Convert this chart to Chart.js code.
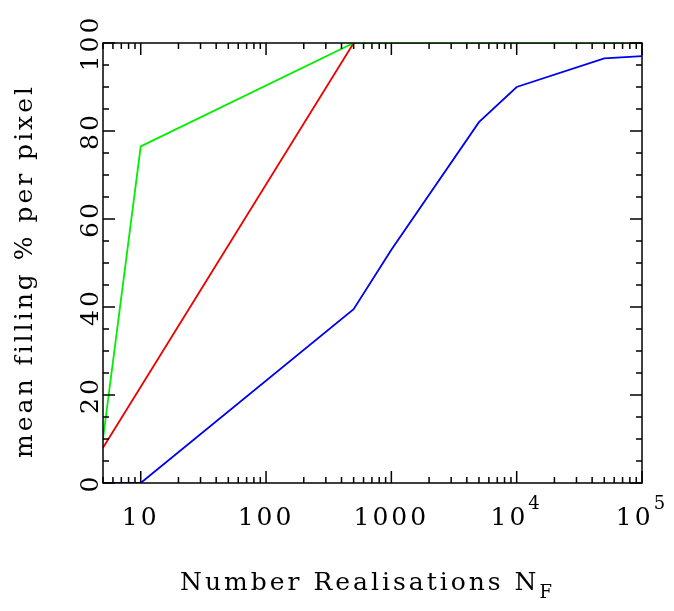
<!DOCTYPE html>
<html><head><meta charset="utf-8">
<script src="https://cdn.jsdelivr.net/npm/chart.js@4"></script>
<style>body{margin:0;background:#fff}#c{display:block}</style>
</head><body>
<canvas id="c" width="674" height="611"></canvas>
<script>
const greenX = [5, 10, 500, 100000];
const greenY = [10, 76.5, 100, 100];
const redX = [5, 500, 100000];
const redY = [8, 100, 100];
const blueX = [5, 10, 500, 1000, 5000, 10000, 50000, 100000];
const blueY = [0, 0, 39.5, 53, 82, 90, 96.5, 97];
const xTickVals = [10, 100, 1000, 10000, 100000];
const xTickLabels = ['10', '100', '1000', ['10', '4'], ['10', '5']];
const yTickVals = [0, 20, 40, 60, 80, 100];

const pts = (xs, ys) => xs.map((x, i) => ({x: x, y: ys[i]}));
const FONT = '25px "DejaVu Serif", serif';
const SMALL = '18px "DejaVu Serif", serif';

const axesPlugin = {
  id: 'axesPlugin',
  afterDraw(chart) {
    const {ctx, chartArea: a, scales: {x, y}} = chart;
    ctx.save();
    ctx.strokeStyle = '#000';
    ctx.lineWidth = 1.5;
    ctx.strokeRect(a.left, a.top, a.right - a.left, a.bottom - a.top);
    for (let d = 1; d <= 100000; d *= 10) {
      for (let m = 1; m < 10; m++) {
        const v = d * m;
        if (v < 5 || v > 100000) continue;
        const px = x.getPixelForValue(v);
        const len = m === 1 ? 12 : 6;
        ctx.beginPath();
        ctx.moveTo(px, a.bottom); ctx.lineTo(px, a.bottom - len);
        ctx.moveTo(px, a.top); ctx.lineTo(px, a.top + len);
        ctx.stroke();
      }
    }
    for (let v = 0; v <= 100; v += 5) {
      const py = y.getPixelForValue(v);
      const len = v % 20 === 0 ? 12 : 6;
      ctx.beginPath();
      ctx.moveTo(a.left, py); ctx.lineTo(a.left + len, py);
      ctx.moveTo(a.right, py); ctx.lineTo(a.right - len, py);
      ctx.stroke();
    }
    ctx.fillStyle = '#000';
    ctx.letterSpacing = '3px';
    xTickVals.forEach((v, i) => {
      const px = x.getPixelForValue(v);
      const lab = xTickLabels[i];
      if (Array.isArray(lab)) {
        ctx.font = FONT;
        const w1 = ctx.measureText(lab[0]).width;
        ctx.font = SMALL;
        const w2 = ctx.measureText(lab[1]).width;
        const x0 = px - (w1 + w2) / 2;
        ctx.font = FONT;
        ctx.textAlign = 'left';
        ctx.fillText(lab[0], x0, a.bottom + 42);
        ctx.font = SMALL;
        ctx.fillText(lab[1], x0 + w1, a.bottom + 26);
      } else {
        ctx.font = FONT;
        ctx.textAlign = 'center';
        ctx.fillText(lab, px, a.bottom + 42);
      }
    });
    ctx.font = FONT;
    yTickVals.forEach(v => {
      const py = y.getPixelForValue(v);
      ctx.save();
      ctx.translate(a.left - 5, py);
      ctx.rotate(-Math.PI / 2);
      ctx.textAlign = 'center';
      ctx.fillText(String(v), 0, 0);
      ctx.restore();
    });
    ctx.save();
    ctx.translate(32, (a.top + a.bottom) / 2 + 8);
    ctx.rotate(-Math.PI / 2);
    ctx.textAlign = 'center';
    ctx.fillText('mean filling % per pixel', 0, 0);
    ctx.restore();
    const t = 'Number Realisations N';
    ctx.font = FONT;
    const wt = ctx.measureText(t).width;
    ctx.font = SMALL;
    const ws = ctx.measureText('F').width;
    const cx = (a.left + a.right) / 2 - (wt + ws) / 2 - 5;
    ctx.font = FONT;
    ctx.textAlign = 'left';
    ctx.fillText(t, cx, 590);
    ctx.font = SMALL;
    ctx.fillText('F', cx + wt, 598);
    ctx.restore();
  }
};

new Chart(document.getElementById('c'), {
  type: 'line',
  data: {
    datasets: [
      {data: pts(greenX, greenY), borderColor: '#00ee00', borderWidth: 1.8, pointRadius: 0, fill: false, tension: 0},
      {data: pts(redX, redY), borderColor: '#ee0000', borderWidth: 1.8, pointRadius: 0, fill: false, tension: 0},
      {data: pts(blueX, blueY), borderColor: '#0000ee', borderWidth: 1.8, pointRadius: 0, fill: false, tension: 0}
    ]
  },
  options: {
    responsive: false,
    animation: false,
    layout: {padding: {left: 103, top: 43, right: 32, bottom: 128}},
    plugins: {legend: {display: false}, tooltip: {enabled: false}},
    scales: {
      x: {type: 'logarithmic', min: 5, max: 100000, display: false},
      y: {type: 'linear', min: 0, max: 100, display: false}
    }
  },
  plugins: [axesPlugin]
});
</script>
</body></html>
